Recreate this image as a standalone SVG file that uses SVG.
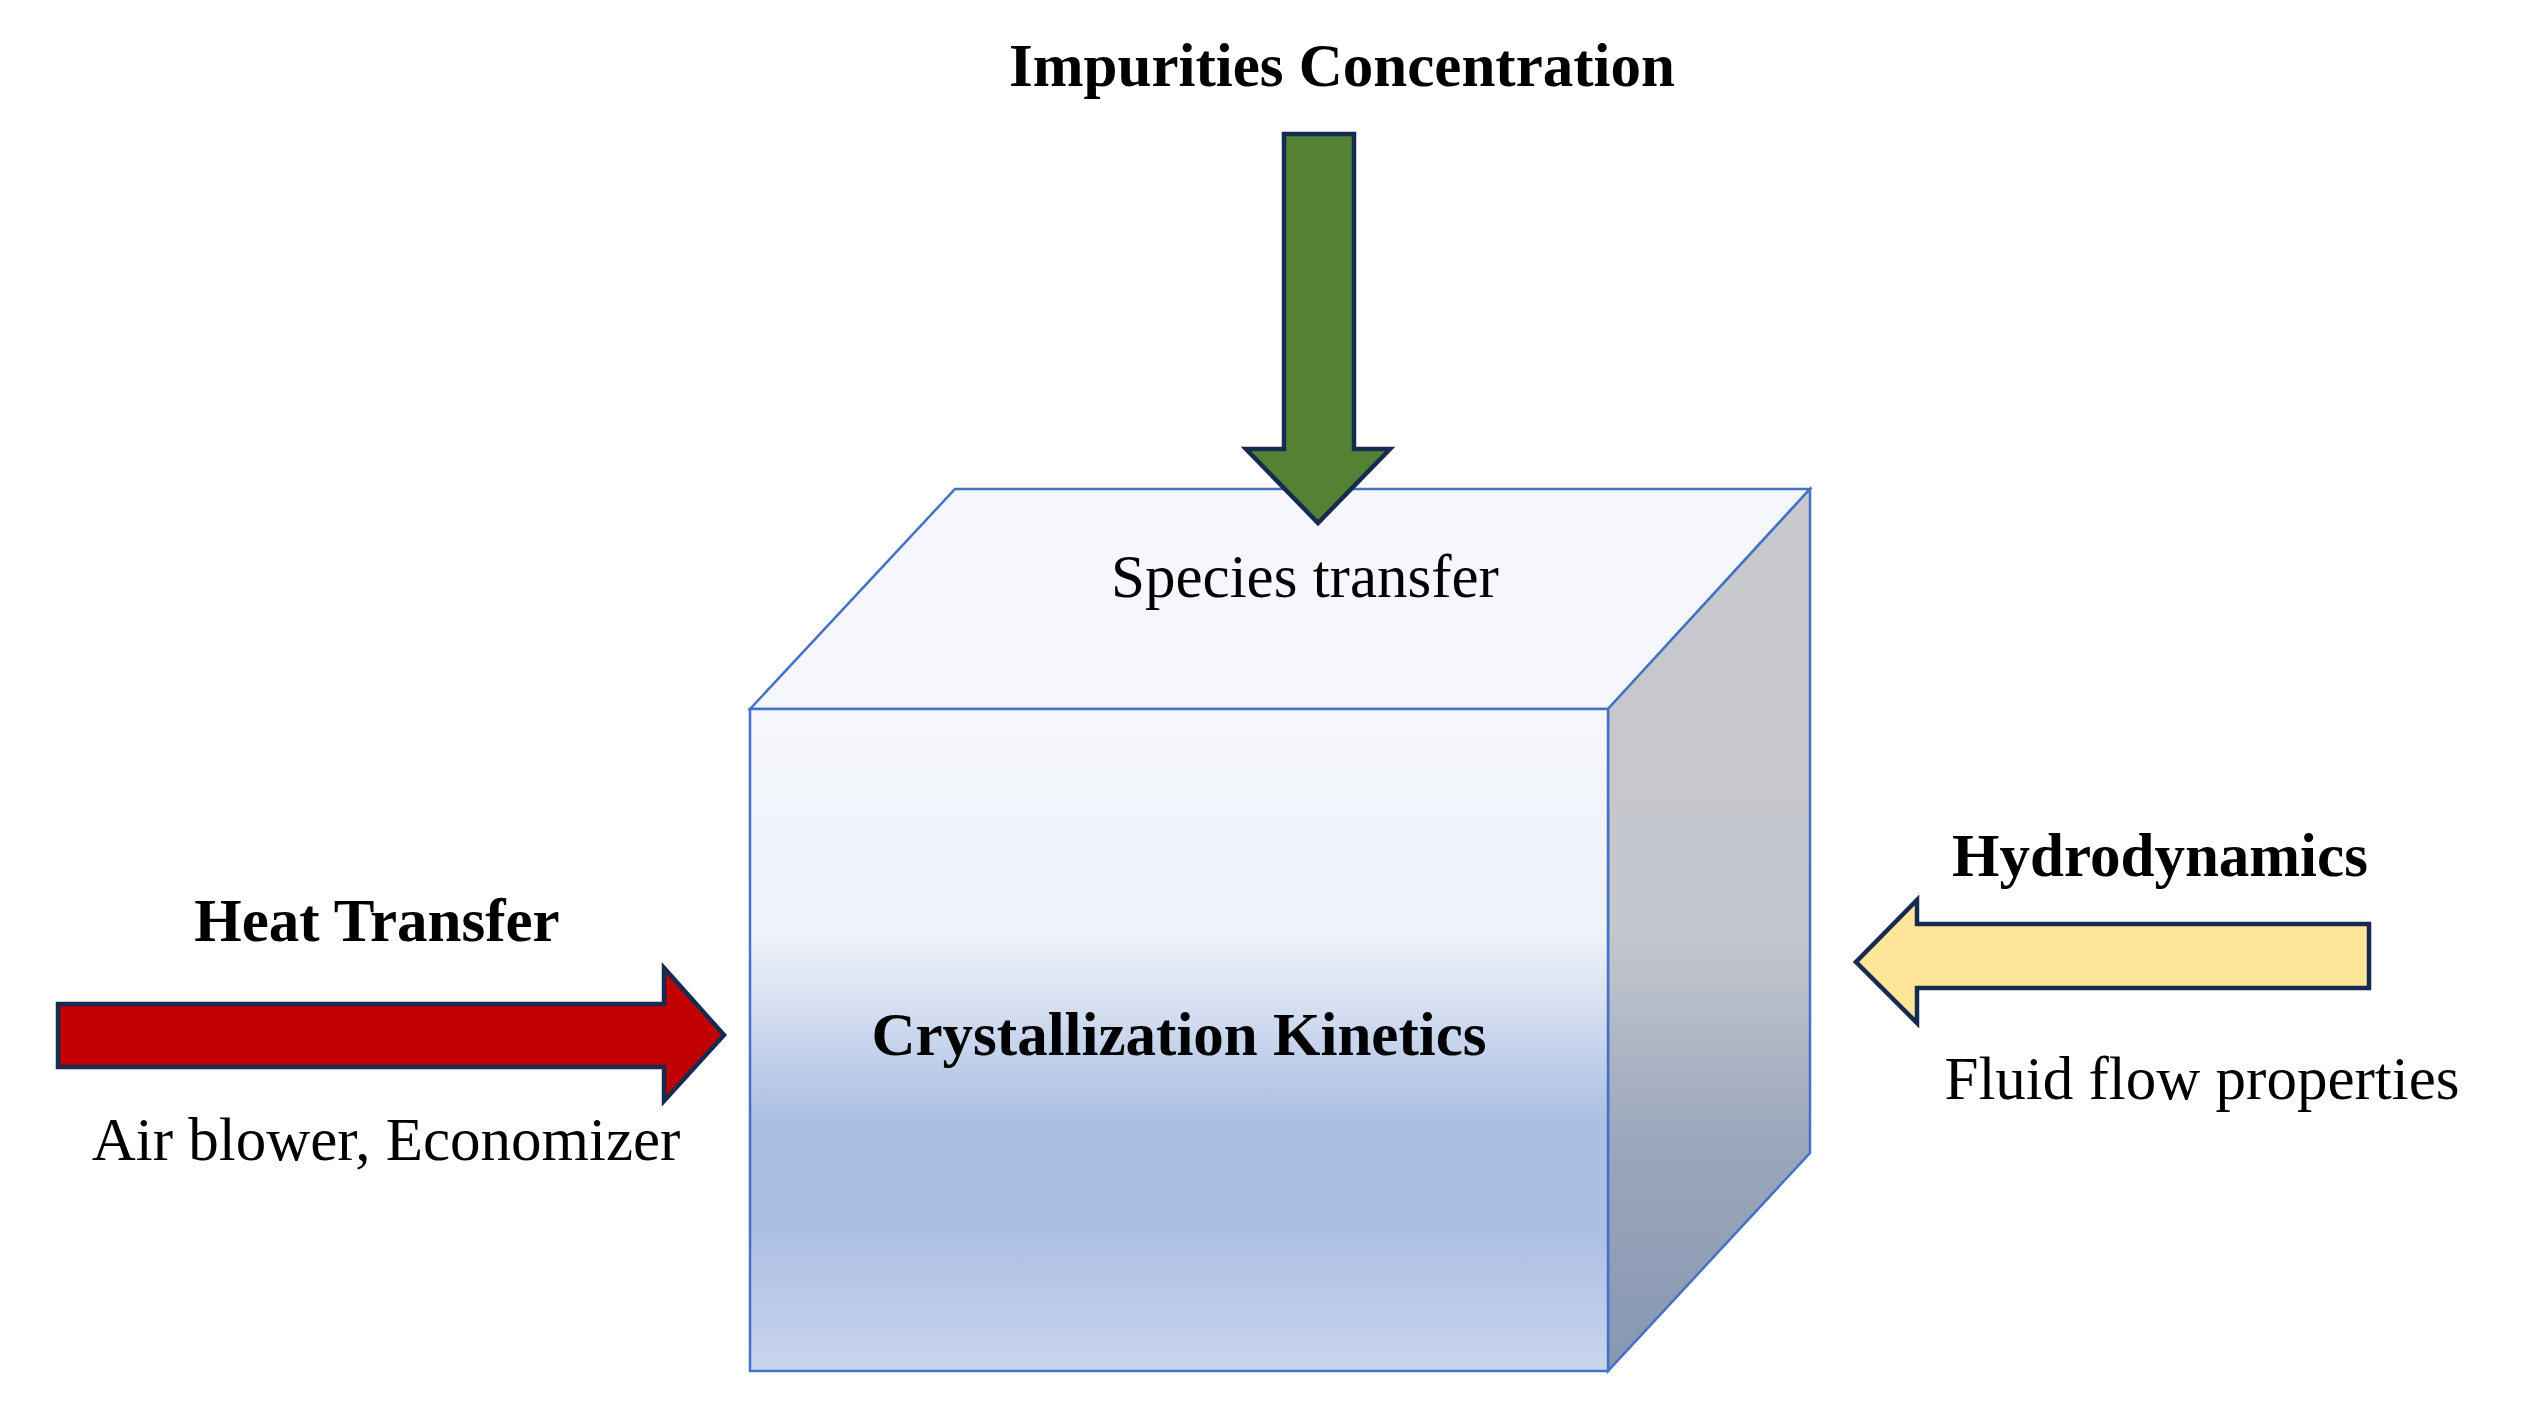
<svg xmlns="http://www.w3.org/2000/svg" width="2539" height="1408" viewBox="0 0 2539 1408">
<defs>
<linearGradient id="gf" x1="0" y1="0" x2="0" y2="1">
<stop offset="0" stop-color="#f5f7fc"/><stop offset="0.34" stop-color="#eef2f9"/><stop offset="0.45" stop-color="#d5dff0"/><stop offset="0.62" stop-color="#abbee4"/><stop offset="0.78" stop-color="#abbee4"/><stop offset="1" stop-color="#c8d5ee"/>
</linearGradient>
<linearGradient id="gr" x1="0" y1="0" x2="0" y2="1">
<stop offset="0" stop-color="#c8c9cc"/><stop offset="0.5" stop-color="#c4c7ce"/><stop offset="0.75" stop-color="#9aa6bc"/><stop offset="1" stop-color="#8797b3"/>
</linearGradient>
<style>
.t{font-family:"Liberation Serif","DejaVu Serif",serif;font-size:61px;fill:#000;text-anchor:middle}
.b{font-weight:bold}
.e{stroke:#4472c4;stroke-width:2.5;stroke-linejoin:miter}
.a{stroke:#172a4f;stroke-width:4.5;stroke-linejoin:miter}
</style>
</defs>
<rect width="2539" height="1408" fill="#fff"/>
<g id="cube">
<polygon class="e" points="750,709 955,489 1810,489 1608,709" fill="#f5f7fc"/>
<polygon class="e" points="1608,709 1810,489 1810,1153 1608,1371" fill="url(#gr)"/>
<rect class="e" x="750" y="709" width="858" height="662" fill="url(#gf)"/>
<text class="t" x="1305" y="597">Species transfer</text>
<text class="t b" x="1179" y="1055">Crystallization Kinetics</text>
</g>
<g id="connectors">
<polygon class="a" fill="#548235" points="1284,134 1354,134 1354,449 1390,449 1318,523 1246,449 1284,449"/>
<polygon class="a" fill="#c00000" points="58,1004 664,1004 664,968 724,1035 664,1101 664,1067 58,1067"/>
<polygon class="a" fill="#ffe699" points="2369,924 1917,924 1917,900 1856,962 1917,1023 1917,988 2369,988"/>
</g>
<g id="impurities"><text class="t b" x="1342" y="86">Impurities Concentration</text></g>
<g id="heat">
<text class="t b" x="377" y="941">Heat Transfer</text>
<text class="t" x="386" y="1160">Air blower, Economizer</text>
</g>
<g id="hydro">
<text class="t b" x="2160" y="876">Hydrodynamics</text>
<text class="t" x="2202" y="1099">Fluid flow properties</text>
</g>
</svg>
